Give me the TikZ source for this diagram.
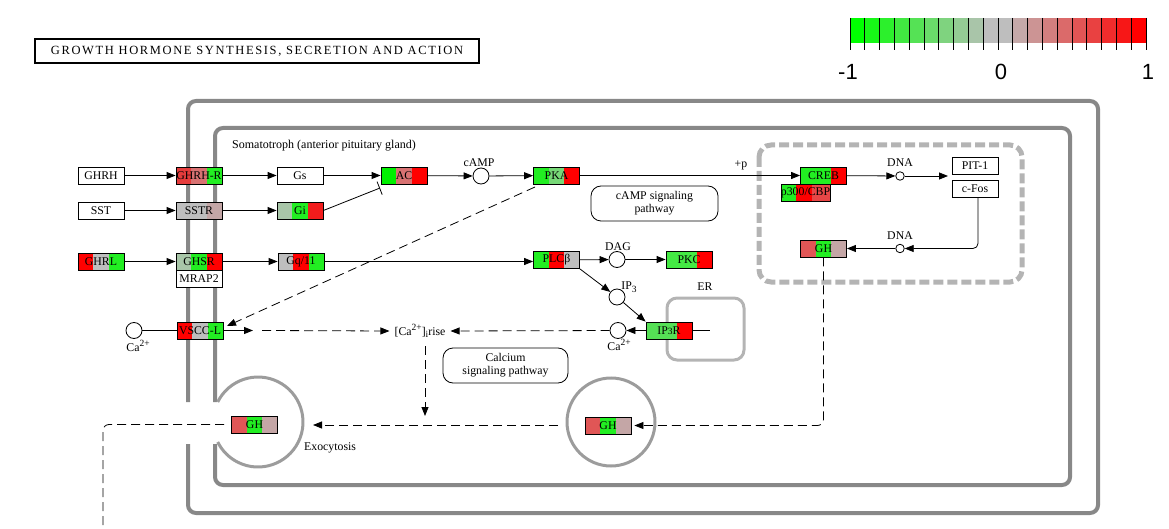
\documentclass[tikz,border=0pt]{standalone}
\usepackage{fontspec}
\setmainfont{Liberation Serif}
\newfontfamily\legfont{Liberation Sans}
\newfontfamily\ttlfont[LetterSpace=13]{Liberation Serif}
\usetikzlibrary{arrows.meta}
\definecolor{cR}{HTML}{FF0000}
\definecolor{cR2}{HTML}{F21C1C}
\definecolor{cRd}{HTML}{E63C3C}
\definecolor{cSal}{HTML}{D87272}
\definecolor{cGHr}{HTML}{E05656}
\definecolor{cP3}{HTML}{E84646}
\definecolor{cGy}{HTML}{BEBEBE}
\definecolor{cPk}{HTML}{C4A6A6}
\definecolor{cPg}{HTML}{A8C6A8}
\definecolor{cG}{HTML}{22EE22}
\definecolor{cG0}{HTML}{00F000}
\definecolor{cG2}{HTML}{44EA44}
\definecolor{cLg}{HTML}{77D877}
\definecolor{cIg}{HTML}{55E055}
\definecolor{membgray}{HTML}{888888}
\definecolor{vesgray}{HTML}{9C9C9C}
\definecolor{ergray}{HTML}{B4B4B4}
\definecolor{lgreen}{HTML}{00FF00}
\definecolor{lgray}{HTML}{BEBEBE}
\definecolor{lred}{HTML}{FF0000}
\newcommand{\kgfont}{\fontsize{11.8}{12}\selectfont}
\newcommand{\klfont}{\fontsize{11.8}{13}\selectfont}
\newcommand{\ksup}[1]{\raisebox{0.9ex}{\fontsize{9.5}{9.5}\selectfont #1}}
\newcommand{\ksub}[1]{\raisebox{-0.5ex}{\fontsize{9.5}{9.5}\selectfont #1}}
\begin{document}
\begin{tikzpicture}[x=1pt,y=-1pt,
  ln/.style={line width=0.8pt},
  arr/.style={ln,-{Triangle[length=9pt,width=7pt]}},
  darr/.style={arr,dash pattern=on 9pt off 5pt},
  dln/.style={ln,dash pattern=on 9pt off 5pt},
  gene/.style={draw=black,line width=0.8pt,minimum width=46pt,minimum height=17pt,inner sep=0pt,font=\kgfont},
  wgene/.style={gene,fill=white},
  tri/.style n args={3}{gene,path picture={
     \fill[#1] (path picture bounding box.south west) rectangle ([xshift=15.333pt]path picture bounding box.north west);
     \fill[#2] ([xshift=15.333pt]path picture bounding box.south west) rectangle ([xshift=30.667pt]path picture bounding box.north west);
     \fill[#3] ([xshift=30.667pt]path picture bounding box.south west) rectangle (path picture bounding box.north east);}},
  mol/.style={circle,draw=black,line width=0.8pt,fill=white,minimum size=16pt,inner sep=0pt},
  dnac/.style={circle,draw=black,line width=0.8pt,fill=white,minimum size=8.5pt,inner sep=0pt},
  lbl/.style={inner sep=0pt,font=\klfont},
  memb/.style={line width=4pt,draw=membgray,rounded corners=8pt},
  pbox/.style={draw=black,line width=0.8pt,rounded corners=10pt,align=center,font=\klfont,inner sep=0pt}
]
\useasboundingbox (0,0) rectangle (1169,529);

% title
\node[draw,line width=1.5pt,minimum width=444pt,minimum height=24pt,inner sep=0pt,font=\ttlfont\fontsize{12.5}{13}\selectfont] (title) at (257,51) {GROWTH HORMONE SYNTHESIS, SECRETION AND ACTION};

% legend
\foreach \i in {0,...,19}{
  \pgfmathsetmacro{\xa}{850+\i*14.8}
  \pgfmathsetmacro{\xb}{850+(\i+1)*14.8}
  \ifnum\i<10
    \pgfmathtruncatemacro{\p}{100*(9-\i)/9}
    \fill[lgreen!\p!lgray] (\xa,18) rectangle (\xb,43);
  \else
    \pgfmathtruncatemacro{\p}{100*(\i-10)/9}
    \fill[lred!\p!lgray] (\xa,18) rectangle (\xb,43);
  \fi
}
\foreach \i in {0,...,20}{\draw[line width=0.9pt] ({850+\i*14.8},18) -- ({850+\i*14.8},50);}
\node[anchor=base,inner sep=0pt,font=\legfont\fontsize{22}{22}\selectfont] (lm1) at (848,80) {-1};
\node[anchor=base,inner sep=0pt,font=\legfont\fontsize{22}{22}\selectfont] (l0) at (1001,80) {0};
\node[anchor=base,inner sep=0pt,font=\legfont\fontsize{22}{22}\selectfont] (l1) at (1148,80) {1};

% membranes
\draw[memb] (188,402) -- (188,101) -- (1098,101) -- (1098,513) -- (188,513) -- (188,444);
\draw[memb] (215,402) -- (215,128) -- (1070,128) -- (1070,485) -- (215,485) -- (215,444);
\draw[line width=3pt,vesgray] (217.7,402) arc[start angle=-153.6,end angle=153.6,radius=45];
\node[circle,draw=vesgray,line width=3pt,minimum size=88pt,inner sep=0pt] (ves2) at (611,422) {};
\draw[line width=3pt,ergray,rounded corners=10pt] (667,298) rectangle (744,360);
\draw[line width=5pt,ergray,rounded corners=12pt,dash pattern=on 10pt off 4pt] (759,145) rectangle (1022,282);

% labels
\node[lbl,anchor=west,font=\fontsize{12}{12}\selectfont] (soma) at (232,146) {Somatotroph (anterior pituitary gland)};
\node[lbl] (campl) at (479,163) {cAMP};
\node[lbl] (plus) at (741,165) {+p};
\node[lbl] (dagl) at (618,247) {DAG};
\node[lbl] (ip3l) at (629,287) {IP\ksub{3}};
\node[lbl] (erl) at (705,287) {ER};
\node[lbl] (dna1l) at (900,163) {DNA};
\node[lbl] (dna2l) at (900,236) {DNA};
\node[lbl] (ca1l) at (138,346) {Ca\ksup{2+}};
\node[lbl] (ca2l) at (619,345) {Ca\ksup{2+}};
\node[lbl,anchor=west] (exol) at (304,448) {Exocytosis};
\node[lbl,inner xsep=5pt] (carise) at (420,331) {[Ca\ksup{2+}]\ksub{i}rise};
\node[pbox,minimum width=127pt,minimum height=35pt] (campp) at (654.5,203.5) {cAMP signaling\\pathway};
\node[pbox,minimum width=125pt,minimum height=35pt] (calp) at (505.5,365.5) {Calcium\\signaling pathway};

% genes
\node[wgene] (ghrh) at (101,175.5) {GHRH};
\node[tri={cRd}{cSal}{cG}] (ghrhr) at (199,175.5) {GHRH-R};
\node[wgene] (gs) at (300,175.5) {Gs};
\node[tri={cG0}{cSal}{cR}] (ac) at (404,175.5) {AC};
\node[mol] (camp) at (481,176) {};
\node[tri={cG}{cLg}{cR}] (pka) at (556.5,175.5) {PKA};
\node[wgene] (sst) at (101,210.5) {SST};
\node[tri={cGy}{cGy}{cPk}] (sstr) at (199,210.5) {SSTR};
\node[tri={cPg}{cG}{cR2}] (gi) at (300,210.5) {Gi};
\node[tri={cR}{cGy}{cG}] (ghrl) at (101,261.5) {GHRL};
\node[tri={cPg}{cG}{cR}] (ghsr) at (199,261.5) {GHSR};
\node[wgene] (mrap) at (199,278.5) {MRAP2};
\node[tri={cGy}{cR}{cG}] (gq) at (301,261.5) {Gq/11};
\node[tri={cG}{cR}{cGy}] (plc) at (556.5,260) {PLCβ};
\node[mol] (dag) at (617,259.5) {};
\node[tri={cG2}{cG2}{cR}] (pkc) at (689,259.5) {PKC};
\node[mol] (ip3) at (617,297) {};
\node[tri={cIg}{cIg}{cR}] (ip3r) at (669,330.5) {IP{\fontsize{9.5}{9.5}\selectfont 3}R};
\node[mol] (ca2) at (618,330.5) {};
\node[mol] (ca1) at (134,330.5) {};
\node[tri={cR}{cGy}{cG}] (vscc) at (200,330.5) {VSCC-L};
\node[tri={cGHr}{cG}{cPk}] (gh1) at (254.5,424.5) {GH};
\node[tri={cGHr}{cG}{cPk}] (gh2) at (608,425.5) {GH};
\node[tri={cG}{cG}{cR}] (creb) at (823.5,175.5) {CREB};
\node[tri={cG}{cR}{cP3}] (p300) at (805.5,192.5) {p300/CBP};
\node[dnac] (dna1) at (900,176) {};
\node[wgene] (pit) at (975,165.5) {PIT-1};
\node[wgene] (cfos) at (975,189) {c-Fos};
\node[dnac] (dna2) at (900,248.5) {};
\node[tri={cGHr}{cG}{cPk}] (ghn) at (823.5,248.5) {GH};

% free-end coordinates
\coordinate (acinh) at (380,188);
\coordinate (pkas) at (535,187);
\coordinate (vscct) at (227,326);
\coordinate (vsccarr) at (253,330.5);
\coordinate (vsccd) at (262,330.5);
\coordinate (erln) at (710,330.5);
\coordinate (caup) at (425,346);
\coordinate (cadown) at (425,416);
\coordinate (v2w) at (558,425);
\coordinate (v1e) at (313,425);
\coordinate (outc) at (103,529);
\coordinate (tfin) at (948,176);

% connectors
\draw[arr] (ghrh) -- (ghrhr);
\draw[arr] (ghrhr) -- (gs);
\draw[arr] (gs) -- (ac);
\draw[arr] (ac) -- (camp);
\draw[arr] (camp) -- (pka);
\draw[arr] (pka) -- (creb);
\draw[arr] (sst) -- (sstr);
\draw[arr] (sstr) -- (gi);
\draw[ln,-{Bar[width=14pt]}] (gi.east) -- (acinh);
\draw[arr] (ghrl) -- (ghsr);
\draw[arr] (ghsr) -- (gq);
\draw[arr] (gq.east) -- (gq.east -| plc.west);
\draw[arr] (plc) -- (dag);
\draw[arr] (dag) -- (pkc);
\draw[arr] (plc.south east) -- (ip3);
\draw[arr] (ip3) -- (ip3r.north west);
\draw[arr] (ip3r) -- (ca2);
\draw[ln] (ip3r.east) -- (erln);
\draw[darr] (ca2) -- (carise.east);
\draw[darr] (pkas) -- (vscct);
\draw[ln] (ca1) -- (vscc);
\draw[arr] (vscc) -- (vsccarr);
\draw[darr] (vsccd) -- (carise.west);
\draw[darr] (caup) -- (cadown);
\draw[darr] (v2w) -- (v1e);
\draw[darr,rounded corners=6pt,shorten >=3pt] (ghn.south) |- (gh2.east);
\draw[dln,rounded corners=6pt] ([xshift=-7pt]gh1.west) -| (outc);
\draw[arr] (creb) -- (dna1);
\draw[arr] (dna1) -- (tfin);
\draw[arr,rounded corners=5pt] ([xshift=3pt]cfos.south) |- (dna2);
\draw[arr] (dna2) -- (ghn);
\end{tikzpicture}
\end{document}
